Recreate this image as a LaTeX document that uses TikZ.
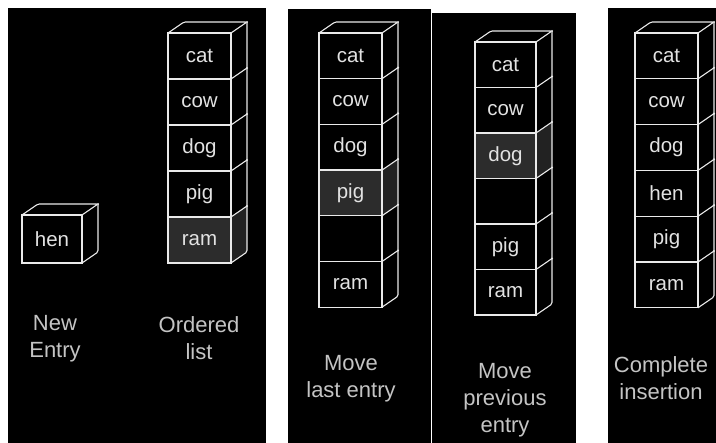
\documentclass[tikz,border=0pt]{standalone}
\usepackage{fontspec}
\setmainfont{Liberation Sans}
\usetikzlibrary{calc}
\definecolor{linec}{HTML}{EAEAEA}
\definecolor{txtc}{HTML}{E2E2E2}
\definecolor{labc}{HTML}{C4C4C4}
\definecolor{shadec}{HTML}{2C2C2C}
\definecolor{sideshadec}{HTML}{222222}
\tikzset{
  cell/.style={draw=linec, line width=1.2pt, anchor=north west, inner sep=0pt, outer sep=0pt,
    text=txtc, font=\fontsize{20.5}{24}\selectfont},
  edge/.style={draw=linec, line width=1.1pt, line join=round, rounded corners=1.5pt},
  lab/.style={align=center, text=labc, font=\fontsize{22}{27}\selectfont, inner sep=0pt},
  panel/.style={fill=black, draw=none},
  joint/.style={fill=linec, draw=none}
}
% #1 prefix, #2 left, #3 top, #4 width, #5 cell height, #6 count, #7 list name/shade
\newcommand\mystack[7]{%
  \foreach \nm/\sh [count=\i] in {#7} {%
    \pgfmathsetmacro\yy{#3+(\i-1)*#5}
    \ifnum\sh=1
      \fill[shadec] (#2,\yy) rectangle ++(#4,#5);
      \fill[sideshadec] (#2+#4,\yy) -- ++(16,-11) -- ++(0,#5) -- ++(-16,11) -- cycle;
    \fi
    \node[cell, minimum width=#4, minimum height=#5] (#1\i) at (#2,\yy) {\nm};
  }
  \draw[edge] (#11.north west) -- ++(16,-11) -- ($(#11.north east)+(16,-11)$) -- (#11.north east);
  \draw[edge] ($(#11.north east)+(16,-11)$) -- ($(#1#6.south east)+(16,-11)$) -- (#1#6.south east);
  \fill[joint] ($(#11.north east)+(16,-11)$) circle (1.2);
  \ifnum#6>1
    \pgfmathtruncatemacro\lastsep{#6-1}
    \foreach \j in {1,...,\lastsep} {
      \draw[edge] (#1\j.south east) -- ++(16,-11);
      \fill[joint] ($(#1\j.south east)+(16,-11)$) circle (1.2);
    }
  \fi
}
\begin{document}
\begin{tikzpicture}[x=1pt,y=-1pt]
\useasboundingbox (0,0) rectangle (716,443);
\fill[white] (0,0) rectangle (716,443);
% panels
\fill[panel] (8,8) rectangle (266,443);
\fill[panel] (288,9) rectangle (430.5,443);
\fill[panel] (432,13) rectangle (576,443);
\fill[panel] (608,8) rectangle (716,443);
% panel 1
\mystack{h}{22}{215}{60}{48}{1}{hen/0}
\mystack{a}{168}{33}{63}{46}{5}{cat/0,cow/0,dog/0,pig/0,ram/1}
\node[lab] (l1) at (55,338.5) {New\\Entry};
\node[lab] (l2) at (199,338.5) {Ordered\\list};
% panel 2
\mystack{b}{319}{33}{63}{45.7}{6}{cat/0,cow/0,dog/0,pig/1,{}/0,ram/0}
\node[lab] (l3) at (351,378.5) {Move\\last entry};
% panel 3
\mystack{c}{475}{42}{61}{45.5}{6}{cat/0,cow/0,dog/1,{}/0,pig/0,ram/0}
\node[lab] (l4) at (505,400) {Move\\previous\\entry};
% panel 4
\mystack{d}{635}{33}{63}{45.8}{6}{cat/0,cow/0,dog/0,hen/0,pig/0,ram/0}
\node[lab] (l5) at (661,378.5) {Complete\\insertion};
\end{tikzpicture}
\end{document}
